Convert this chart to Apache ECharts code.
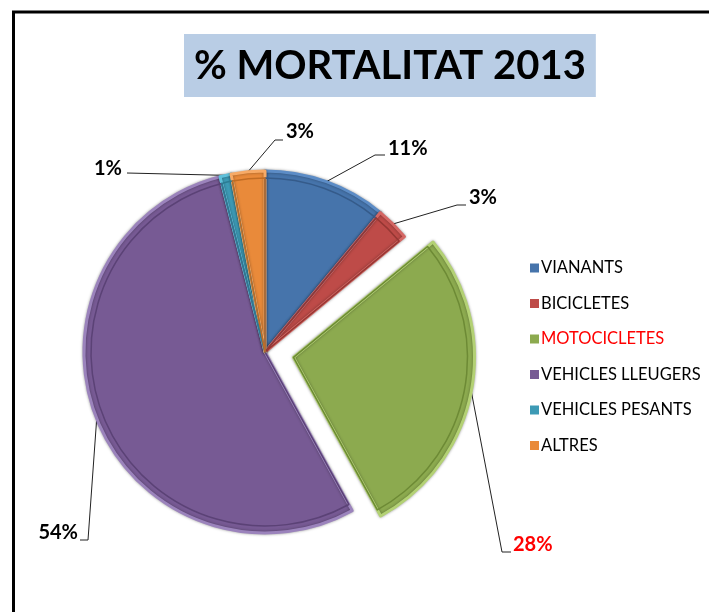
<!DOCTYPE html>
<html>
<head>
<meta charset="utf-8">
<script src="https://cdn.jsdelivr.net/npm/echarts@6/dist/echarts.min.js"></script>
<style>
  html, body { margin: 0; padding: 0; background: #fff; }
  #chart { width: 709px; height: 612px; }
</style>
</head>
<body>
<div id="chart"></div>
<script>
const categories = ['VIANANTS', 'BICICLETES', 'MOTOCICLETES', 'VEHICLES LLEUGERS', 'VEHICLES PESANTS', 'ALTRES']
const percentages = [11, 3, 28, 54, 1, 3]
const explodedSlice = 'MOTOCICLETES'

const fills = ['#4674AB', '#BE4B48', '#8CAA4F', '#775A94', '#3D9AB5', '#E98A3A']
const edges = ['#5C8CC6', '#D46663', '#B3D174', '#9B83BC', '#5FC0DA', '#F7AA66']
const inner = ['#355B8A', '#963733', '#6D8A35', '#5B4276', '#2B7C93', '#C06C24']

const explodeOffset = 29

// where each label sits (edge x, middle y, which edge) and the bend of its leader line
const labelSpots = [
  { x: 388, y: 149, side: 'left', bend: [[375, 155], [385, 155]] },
  { x: 469, y: 198, side: 'left', bend: [[457, 205], [466, 205]] },
  { x: 513, y: 545, side: 'left', bend: [[502, 552], [511, 552]] },
  { x: 78, y: 533, side: 'right', bend: [[88, 540], [80, 540]] },
  { x: 122, y: 169, side: 'right', bend: [[127, 173], [127, 173]] },
  { x: 286, y: 132, side: 'left', bend: [[275, 140], [283, 140]] }
]

// shift of the exploded slice (the label and its line move with it)
const total = percentages.reduce((a, b) => a + b, 0)
const explodedIndex = categories.indexOf(explodedSlice)
const before = percentages.slice(0, explodedIndex).reduce((a, b) => a + b, 0)
const midAngle = (before + percentages[explodedIndex] / 2) / total * Math.PI * 2
const shift = [Math.sin(midAngle) * explodeOffset, -Math.cos(midAngle) * explodeOffset]

const chart = echarts.init(document.getElementById('chart'))

const pieData = categories.map((name, i) => ({
  name,
  value: percentages[i],
  selected: name === explodedSlice,
  itemStyle: { color: fills[i], borderColor: edges[i] },
  label: name === explodedSlice ? { color: '#FF0000' } : {}
}))

const bevelData = categories.map((name, i) => ({
  name,
  value: percentages[i],
  selected: name === explodedSlice,
  itemStyle: { color: 'transparent', borderColor: inner[i] }
}))

chart.setOption({
  backgroundColor: '#fff',
  animation: false,
  title: {
    text: '% MORTALITAT 2013',
    left: 184,
    top: 34,
    padding: [7, 10, 6, 10],
    backgroundColor: '#B9CDE5',
    textStyle: {
      fontFamily: 'Lato',
      fontWeight: 'bold',
      fontSize: 40,
      lineHeight: 50,
      color: '#000'
    }
  },
  legend: {
    orient: 'vertical',
    left: 525,
    top: 254,
    icon: 'rect',
    itemWidth: 9,
    itemHeight: 9,
    itemGap: 17.5,
    selectedMode: false,
    itemStyle: { borderWidth: 0 },
    textStyle: { fontFamily: 'Lato', fontSize: 16.5, lineHeight: 18, color: '#000', padding: [0, 0, 0, -3] },
    data: categories.map(name => name === explodedSlice
      ? { name, textStyle: { color: '#FF0000' } }
      : { name })
  },
  graphic: [
    {
      type: 'polyline',
      shape: { points: [[13.5, 612], [13.5, 12], [709, 12]] },
      style: { stroke: '#000', lineWidth: 3, fill: null }
    }
  ],
  series: [
    {
      type: 'pie',
      center: [265, 352],
      radius: [0, 181],
      startAngle: 90,
      clockwise: true,
      selectedMode: 'single',
      selectedOffset: explodeOffset,
      avoidLabelOverlap: false,
      itemStyle: { borderWidth: 3, shadowBlur: 3, shadowColor: 'rgba(0,0,0,0.35)' },
      emphasis: { disabled: true },
      label: {
        show: true,
        position: 'outside',
        formatter: '{c}%',
        fontFamily: 'Lato',
        fontWeight: 'bold',
        fontSize: 20,
        color: '#000'
      },
      labelLine: {
        show: true,
        smooth: false,
        lineStyle: { color: '#222', width: 1 }
      },
      labelLayout: params => {
        const i = params.dataIndex
        const spot = labelSpots[i]
        const s = categories[i] === explodedSlice ? shift : [0, 0]
        const r = params.labelRect
        const edgeX = spot.side === 'left' ? r.x : r.x + r.width
        const p0 = params.labelLinePoints[0]
        return {
          dx: spot.x - s[0] - edgeX,
          dy: spot.y - s[1] - (r.y + r.height / 2),
          labelLinePoints: [
            p0,
            [spot.bend[0][0] - s[0], spot.bend[0][1] - s[1]],
            [spot.bend[1][0] - s[0], spot.bend[1][1] - s[1]]
          ]
        }
      },
      data: pieData
    },
    {
      type: 'pie',
      center: [265, 352],
      radius: [0, 174],
      startAngle: 90,
      clockwise: true,
      selectedMode: 'single',
      selectedOffset: explodeOffset,
      silent: true,
      itemStyle: { borderWidth: 1.5 },
      label: { show: false },
      labelLine: { show: false },
      emphasis: { disabled: true },
      data: bevelData
    }
  ]
})

window.addEventListener('resize', () => chart.resize())
</script>
</body>
</html>
